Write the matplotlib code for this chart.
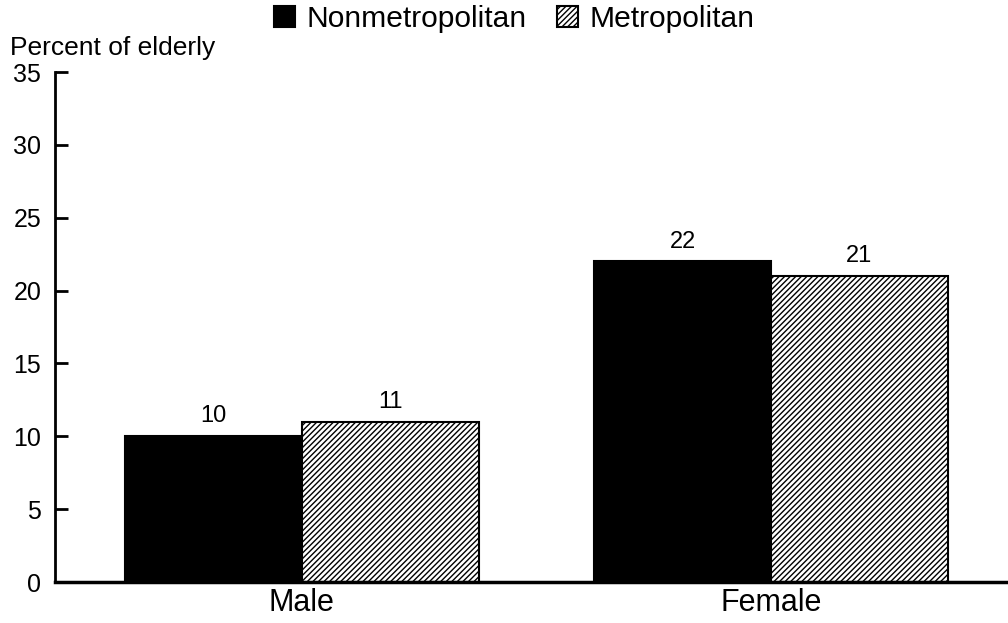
import matplotlib
matplotlib.use("Agg")
import matplotlib.pyplot as plt
import numpy as np

plt.rcParams['font.family'] = ['Liberation Sans', 'DejaVu Sans']
plt.rcParams['hatch.linewidth'] = 1.0

categories = ["Male", "Female"]
series_names = ["Nonmetropolitan", "Metropolitan"]
nonmetro = [10, 22]
metro = [11, 21]
yticks = [0, 5, 10, 15, 20, 25, 30, 35]

fig = plt.figure(figsize=(10.08, 6.23), dpi=100)
ax = fig.add_axes([0.0546, 0.0658, 0.944, 0.8186])

x = np.arange(len(categories))
w = 0.377
b1 = ax.bar(x - w/2, nonmetro, w, color='black', edgecolor='black', linewidth=1.5,
            label=series_names[0])
b2 = ax.bar(x + w/2, metro, w, color='white', edgecolor='black', linewidth=1.5,
            hatch='//////', label=series_names[1])

for bars, vals in ((b1, nonmetro), (b2, metro)):
    for r, v in zip(bars, vals):
        ax.text(r.get_x() + r.get_width()/2, v + 0.95, f"{v}", ha='center', va='baseline',
                fontsize=17)

ax.set_xlim(-0.5255, 1.502)
ax.set_ylim(0, 35)
ax.set_yticks(yticks)
ax.set_yticklabels([str(t) for t in yticks], fontsize=18)
ax.set_xticks(x)
ax.set_xticklabels(categories, fontsize=22)
ax.tick_params(axis='y', direction='in', length=9, width=2, pad=10)
ax.tick_params(axis='x', length=0, pad=4)
ax.spines['top'].set_visible(False)
ax.spines['right'].set_visible(False)
ax.spines['left'].set_linewidth(2)
ax.spines['bottom'].set_linewidth(2.5)

fig.text(0.01, 0.9117, "Percent of elderly", fontsize=19, ha='left', va='baseline')

fig.legend(handles=[b1, b2], loc='center', bbox_to_anchor=(0.510, 0.969), ncol=2,
           frameon=False, fontsize=21.6, handlelength=0.7, handleheight=0.7,
           handletextpad=0.4, columnspacing=1.0, borderaxespad=0, borderpad=0)

fig.savefig("out.png", dpi=100)
